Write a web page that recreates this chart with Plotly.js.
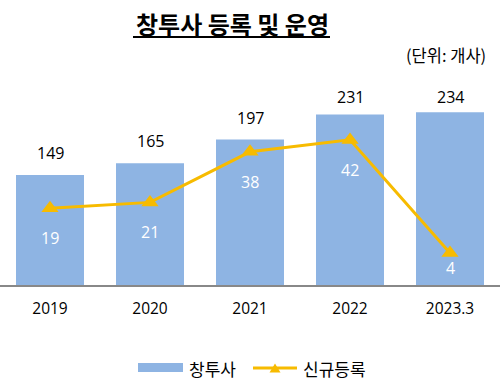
<!DOCTYPE html>
<html><head><meta charset="utf-8">
<script src="https://cdn.plot.ly/plotly-3.0.1.min.js"></script>
<style>html,body{margin:0;padding:0;background:#fff;}#chart{width:504px;height:388px;}</style>
</head><body><div id="chart"></div>
<script>
const categories = ['2019','2020','2021','2022','2023.3'];
const firms = [149,165,197,231,234];
const newRegs = [19,21,38,42,4];
const seriesNames = ['창투사','신규등록'];
const titleText = '창투사 등록 및 운영';
const unitText = '(단위: 개사)';

const FONT = 'Segoe UI, "Open Sans", "Noto Sans CJK KR", sans-serif';
const KFONT = '"Noto Sans CJK KR", "Malgun Gothic", sans-serif';
const BAR = '#8EB4E3', LINE = '#F7BB00';

// plot geometry (pixels)
const W = 504, H = 388, L = 0, R = 4, T = 100, B = 103;
const pw = W - L - R, ph = H - T - B, base = H - B;
const y1r = [0, 250.5], y2r = [-6.76, 55.4];
const py1 = v => base - (v - y1r[0]) / (y1r[1] - y1r[0]) * ph;
const py2 = v => base - (v - y2r[0]) / (y2r[1] - y2r[0]) * ph;
const PX = x => (x - L) / pw, PY = y => (base - y) / ph;

const ann = [];
categories.forEach((c, i) => {
  const top = py1(firms[i]);
  ann.push({x: i, y: firms[i], xref: 'x', yref: 'y', text: String(firms[i]), showarrow: false,
    yshift: Math.min(22, top - 97), font: {family: FONT, size: 16, color: '#000'}});
  const m = py2(newRegs[i]);
  ann.push({x: i, y: newRegs[i], xref: 'x', yref: 'y2', text: String(newRegs[i]), showarrow: false,
    yshift: -Math.min(30, 268 - m), font: {family: FONT, size: 16, color: '#fff'}});
});
ann.push({x: PX(232), y: PY(23), xref: 'paper', yref: 'paper', text: '<b>' + titleText + '</b>', showarrow: false,
  xanchor: 'center', yanchor: 'middle', font: {family: KFONT, size: 24, color: '#000'}});
ann.push({x: PX(488), y: PY(55), xref: 'paper', yref: 'paper', text: unitText, showarrow: false,
  xanchor: 'right', yanchor: 'middle', font: {family: KFONT, size: 16.5, color: '#000'}});
ann.push({x: PX(187), y: PY(368), xref: 'paper', yref: 'paper', text: seriesNames[0], showarrow: false,
  xanchor: 'left', yanchor: 'middle', font: {family: KFONT, size: 17, color: '#000'}});
ann.push({x: PX(301), y: PY(368), xref: 'paper', yref: 'paper', text: seriesNames[1], showarrow: false,
  xanchor: 'left', yanchor: 'middle', font: {family: KFONT, size: 17, color: '#000'}});

const tri = (cx, cy, w, h) => `M${PX(cx - w/2)},${PY(cy + h/2)} L${PX(cx + w/2)},${PY(cy + h/2)} L${PX(cx)},${PY(cy - h/2)} Z`;
const shapes = [
  {type: 'line', xref: 'paper', yref: 'paper', x0: PX(133), x1: PX(330), y0: PY(37), y1: PY(37), line: {color: '#000', width: 2}},
  {type: 'rect', xref: 'paper', yref: 'paper', x0: PX(138), x1: PX(183), y0: PY(363), y1: PY(372), fillcolor: BAR, line: {width: 0}},
  {type: 'line', xref: 'paper', yref: 'paper', x0: PX(253), x1: PX(297), y0: PY(368), y1: PY(368), line: {color: LINE, width: 3}},
  {type: 'path', xref: 'paper', yref: 'paper', path: tri(275, 368, 11, 9), fillcolor: LINE, line: {width: 0}}
];

const data = [
  {type: 'bar', x: categories, y: firms, name: seriesNames[0], marker: {color: BAR}, hoverinfo: 'skip'},
  {type: 'scatter', mode: 'lines+markers', x: categories, y: newRegs, yaxis: 'y2', name: seriesNames[1],
   line: {color: LINE, width: 3}, marker: {symbol: 'triangle-up', size: 15, color: LINE}, hoverinfo: 'skip'}
];
const layout = {
  width: W, height: H, margin: {l: L, r: R, t: T, b: B},
  paper_bgcolor: '#fff', plot_bgcolor: '#fff', showlegend: false, bargap: 0.32,
  font: {family: FONT, color: '#000'},
  xaxis: {type: 'category', range: [-0.5, categories.length - 0.5], showline: true, linecolor: '#888', linewidth: 2,
    ticks: '', showgrid: false, tickfont: {family: FONT, size: 15.5, color: '#000'}, ticklabelstandoff: 8},
  yaxis: {range: y1r, visible: false, showgrid: false, zeroline: false},
  yaxis2: {range: y2r, overlaying: 'y', visible: false, showgrid: false, zeroline: false},
  annotations: ann, shapes: shapes
};
Plotly.newPlot('chart', data, layout, {staticPlot: true, displayModeBar: false});
</script></body></html>
